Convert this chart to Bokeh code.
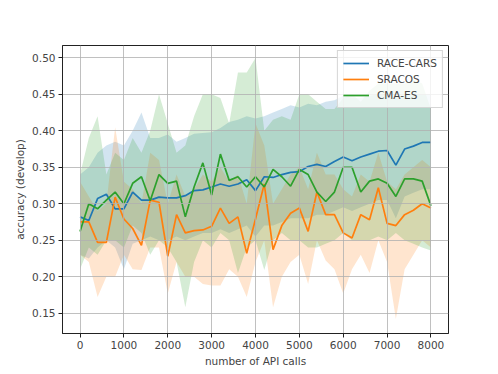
from bokeh.plotting import figure
from bokeh.models import FixedTicker, NumeralTickFormatter, Range1d, Legend, LegendItem
from bokeh.embed import file_html
from bokeh.resources import INLINE

api_calls = list(range(0, 8001, 200))

race_cars_mean = [0.282, 0.277, 0.307, 0.313, 0.293, 0.293, 0.316, 0.305, 0.305, 0.309,
                  0.308, 0.308, 0.311, 0.318, 0.319, 0.323, 0.327, 0.324, 0.327, 0.333,
                  0.318, 0.337, 0.336, 0.340, 0.343, 0.344, 0.351, 0.354, 0.351, 0.358,
                  0.364, 0.359, 0.364, 0.368, 0.372, 0.373, 0.353, 0.375, 0.379, 0.384, 0.384]
race_cars_upper = [0.34, 0.35, 0.37, 0.38, 0.385, 0.38, 0.40, 0.425, 0.39, 0.39,
                   0.395, 0.385, 0.39, 0.396, 0.397, 0.398, 0.404, 0.412, 0.415, 0.42,
                   0.417, 0.42, 0.425, 0.43, 0.435, 0.432, 0.437, 0.435, 0.44, 0.442,
                   0.448, 0.445, 0.445, 0.448, 0.45, 0.45, 0.445, 0.448, 0.45, 0.45, 0.45]
race_cars_lower = [0.23, 0.225, 0.24, 0.25, 0.24, 0.21, 0.245, 0.25, 0.255, 0.25,
                   0.25, 0.255, 0.25, 0.255, 0.26, 0.26, 0.265, 0.26, 0.265, 0.27,
                   0.255, 0.27, 0.27, 0.275, 0.28, 0.28, 0.28, 0.285, 0.285, 0.29,
                   0.295, 0.29, 0.295, 0.30, 0.305, 0.305, 0.28, 0.31, 0.315, 0.32, 0.32]

sracos_mean = [0.275, 0.275, 0.247, 0.247, 0.309, 0.279, 0.266, 0.243, 0.305, 0.302,
               0.228, 0.285, 0.260, 0.263, 0.264, 0.269, 0.294, 0.273, 0.282, 0.232,
               0.279, 0.327, 0.237, 0.270, 0.287, 0.294, 0.262, 0.316, 0.285, 0.285,
               0.260, 0.253, 0.285, 0.278, 0.322, 0.273, 0.270, 0.285, 0.291, 0.300, 0.294]
sracos_upper = [0.33, 0.31, 0.29, 0.30, 0.405, 0.33, 0.32, 0.30, 0.37, 0.36,
                0.30, 0.34, 0.31, 0.32, 0.34, 0.33, 0.35, 0.33, 0.34, 0.30,
                0.41, 0.38, 0.30, 0.32, 0.34, 0.35, 0.32, 0.37, 0.34, 0.34,
                0.32, 0.31, 0.34, 0.33, 0.37, 0.33, 0.32, 0.34, 0.35, 0.36, 0.35]
sracos_lower = [0.23, 0.22, 0.172, 0.20, 0.20, 0.23, 0.21, 0.209, 0.24, 0.24,
                0.177, 0.22, 0.20, 0.20, 0.19, 0.188, 0.188, 0.21, 0.20, 0.172,
                0.22, 0.25, 0.158, 0.20, 0.22, 0.23, 0.19, 0.25, 0.222, 0.21,
                0.177, 0.21, 0.23, 0.205, 0.25, 0.22, 0.142, 0.21, 0.23, 0.25, 0.24]

cma_es_mean = [0.262, 0.300, 0.293, 0.305, 0.316, 0.300, 0.328, 0.337, 0.304, 0.340,
               0.328, 0.331, 0.282, 0.323, 0.356, 0.312, 0.368, 0.332, 0.337, 0.323,
               0.337, 0.323, 0.347, 0.337, 0.324, 0.347, 0.340, 0.316, 0.303, 0.316,
               0.350, 0.350, 0.316, 0.331, 0.334, 0.328, 0.310, 0.334, 0.334, 0.331, 0.297]
cma_es_upper = [0.34, 0.39, 0.42, 0.34, 0.37, 0.36, 0.39, 0.37, 0.40, 0.45,
                0.41, 0.37, 0.38, 0.42, 0.45, 0.45, 0.445, 0.41, 0.48, 0.48,
                0.50, 0.40, 0.415, 0.42, 0.415, 0.45, 0.45, 0.44, 0.43, 0.43,
                0.445, 0.45, 0.44, 0.455, 0.465, 0.465, 0.465, 0.465, 0.47, 0.465, 0.43]
cma_es_lower = [0.21, 0.24, 0.23, 0.25, 0.25, 0.24, 0.27, 0.26, 0.23, 0.25,
                0.24, 0.22, 0.158, 0.22, 0.25, 0.24, 0.26, 0.25, 0.205, 0.24,
                0.25, 0.209, 0.25, 0.26, 0.25, 0.25, 0.24, 0.24, 0.245, 0.25,
                0.26, 0.25, 0.25, 0.25, 0.255, 0.25, 0.26, 0.25, 0.245, 0.24, 0.236]

x_ticks = [0, 1000, 2000, 3000, 4000, 5000, 6000, 7000, 8000]
y_ticks = [0.15, 0.20, 0.25, 0.30, 0.35, 0.40, 0.45, 0.50]

FONT = "DejaVu Sans"
colors = ["#1f77b4", "#ff7f0e", "#2ca02c"]
names = ["RACE-CARS", "SRACOS", "CMA-ES"]
means = [race_cars_mean, sracos_mean, cma_es_mean]
uppers = [race_cars_upper, sracos_upper, cma_es_upper]
lowers = [race_cars_lower, sracos_lower, cma_es_lower]

p = figure(width=498, height=374, output_backend="svg", toolbar_location=None,
           x_range=Range1d(-400, 8400), y_range=Range1d(0.122, 0.517),
           min_border_left=62, min_border_right=50, min_border_top=45, min_border_bottom=41)

p.background_fill_color = "white"
p.border_fill_color = "white"
p.outline_line_color = "#222222"
p.outline_line_width = 1

for c, lo, hi in zip(colors, lowers, uppers):
    p.varea(x=api_calls, y1=lo, y2=hi, fill_color=c, fill_alpha=0.2)

items = []
for c, n, m in zip(colors, names, means):
    r = p.line(api_calls, m, line_color=c, line_width=1.7)
    items.append(LegendItem(label=n, renderers=[r]))

legend = Legend(items=items, location="top_right")
legend.label_text_font = FONT
legend.label_text_font_size = "10.5px"
legend.label_height = 14
legend.glyph_height = 14
legend.glyph_width = 26
legend.spacing = 2
legend.padding = 5
legend.margin = 5
legend.label_standoff = 8
legend.border_line_color = "#cccccc"
legend.border_line_alpha = 0.8
legend.background_fill_alpha = 0.8
p.add_layout(legend)

p.xaxis.ticker = FixedTicker(ticks=x_ticks)
p.yaxis.ticker = FixedTicker(ticks=y_ticks)
p.yaxis.formatter = NumeralTickFormatter(format="0.00")
p.xaxis.axis_label = "number of API calls"
p.yaxis.axis_label = "accuracy (develop)"

for ax in [p.xaxis[0], p.yaxis[0]]:
    ax.axis_label_text_font = FONT
    ax.axis_label_text_font_size = "10.5px"
    ax.axis_label_text_font_style = "normal"
    ax.major_label_text_font = FONT
    ax.major_label_text_font_size = "10.5px"
    ax.major_tick_in = 0
    ax.major_tick_out = 4
    ax.minor_tick_in = 0
    ax.minor_tick_out = 0
    ax.axis_line_color = "#222222"
    ax.major_tick_line_color = "#222222"
    ax.major_label_standoff = 3
    ax.axis_label_standoff = 3

p.grid.grid_line_color = "#b0b0b0"
p.grid.grid_line_width = 0.8
p.grid.level = "glyph"

open("out.html", "w").write(file_html(p, INLINE))
